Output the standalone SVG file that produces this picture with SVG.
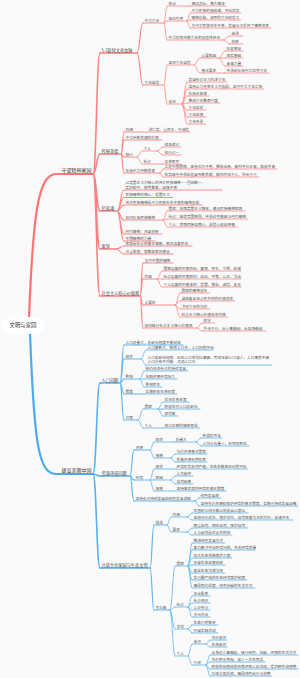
<svg xmlns="http://www.w3.org/2000/svg" width="300" height="678" viewBox="0 0 300 678">
<style>
text{font-family:"Noto Sans CJK SC","Noto Sans",sans-serif;fill:#575757}
.t0{font-size:5.4px;fill:#333}.t1{font-size:5px;fill:#3c3c3c}.t2{font-size:4.2px;fill:#4a4a4a}.t3{font-size:3.7px}
path{fill:none;stroke-linecap:round}
.rm{stroke:#FF7373;stroke-width:2.2}.r1{stroke:#FF8080;stroke-width:1.6}.r2{stroke:#FF8A8A;stroke-width:1.2}.r3{stroke:#FF9393;stroke-width:0.9}
.bm{stroke:#4CAAEE;stroke-width:2.2}.b1{stroke:#55AFF0;stroke-width:1.6}.b2{stroke:#60B6F2;stroke-width:1.2}.b3{stroke:#6BBCF3;stroke-width:0.9}
</style>
<rect width="300" height="678" fill="#FAFAFA"/>
<g id="connectors">
<path class="rm" d="M29 318C33 215 38 174 56 174"/>
<path class="bm" d="M30 333C34 440 38 474 56 474"/>
<path class="r1" d="M93 174C96.5 174 96.5 53 100 53M93 174C96.5 174 96.5 154 100 154M93 174C96.5 174 96.5 211 100 211M93 174C96.5 174 96.5 249 100 249M93 174C96.5 174 96.5 296 100 296"/>
<path class="r2" d="M137 53C140 53 140 23 143 23M137 53C140 53 140 85 143 85"/>
<path class="r3" d="M164 23C165.5 23 165.5 6 167 6M164 23C165.5 23 165.5 21 167 21M164 23C165.5 23 165.5 40 167 40M187 6H190M187 21C188.5 21 188.5 13 190 13M187 21C188.5 21 188.5 20 190 20M187 21C188.5 21 188.5 28 190 28M223 40C226.5 40 226.5 36 230 36M223 40C226.5 40 226.5 44 230 44"/>
<path class="r3" d="M164 85C165.5 85 165.5 65 167 65M164 85C165.5 85 165.5 104 167 104M194 65C197 65 197 58 200 58M194 65C197 65 197 73 200 73M219 58C222 58 222 51 225 51M219 58H225M219 58C222 58 222 66 225 66M219 73H225"/>
<path class="r3" d="M182 104C184.5 104 184.5 82 187 82M182 104C184.5 104 184.5 89 187 89M182 104C184.5 104 184.5 96 187 96M182 104C184.5 104 184.5 103 187 103M182 104C184.5 104 184.5 110 187 110M182 104C184.5 104 184.5 117 187 117M182 104C184.5 104 184.5 124 187 124"/>
<path class="r2" d="M121 154C122.5 154 122.5 132 124 132M121 154C122.5 154 122.5 140 124 140M121 154C122.5 154 122.5 157 124 157M121 154C122.5 154 122.5 173 124 173"/>
<path class="r3" d="M142 132H147M137 157C139.5 157 139.5 151 142 151M137 157C139.5 157 139.5 164 142 164M157 151C160 151 160 147 163 147M157 151C160 151 160 155 163 155M157 164H163M160 173C161.5 173 161.5 169 163 169M160 173C161.5 173 161.5 177 163 177"/>
<path class="r2" d="M117 211C120.5 211 120.5 190 124 190M117 211C120.5 211 120.5 197.5 124 197.5M117 211C120.5 211 120.5 205 124 205M117 211C120.5 211 120.5 220 124 220M117 211C120.5 211 120.5 234 124 234M117 211C120.5 211 120.5 241 124 241"/>
<path class="r3" d="M163 220C165 220 165 211 167 211M163 220C165 220 165 219 167 219M163 220C165 220 165 227 167 227"/>
<path class="r2" d="M116 249C120 249 120 246 124 246M116 249C120 249 120 254 124 254"/>
<path class="r2" d="M140 296C141.5 296 141.5 263 143 263M140 296C141.5 296 141.5 279 143 279M140 296C141.5 296 141.5 305 143 305M140 296C141.5 296 141.5 328 143 328"/>
<path class="r3" d="M157 279C159.5 279 159.5 271 162 271M157 279H162M157 279C159.5 279 159.5 287 162 287M175 305C177.5 305 177.5 293 180 293M175 305C177.5 305 177.5 301 180 301M175 305C177.5 305 177.5 309 180 309M175 305C177.5 305 177.5 317 180 317M197 328C199.5 328 199.5 323 202 323M197 328C199.5 328 199.5 331 202 331"/>
<path class="b1" d="M93 474C96.5 474 96.5 383 100 383M93 474C96.5 474 96.5 476 100 476M93 474C96.5 474 96.5 568 100 568"/>
<path class="b2" d="M120 383C122 383 122 345 124 345M120 383C122 383 122 359 124 359M120 383C122 383 122 379 124 379M120 383C122 383 122 394 124 394M120 383C122 383 122 420 124 420"/>
<path class="b3" d="M141 359C143.5 359 143.5 350 146 350M141 359C143.5 359 143.5 365 146 365M140 379C142 379 142 371 144 371M140 379H144M140 379C142 379 142 387 144 387M140 394H144M138 420C140.5 420 140.5 409 143 409M138 420C140.5 420 140.5 428 143 428M158 409C160.5 409 160.5 402 163 402M158 409H163M158 409C160.5 409 160.5 416 163 416M158 428H163"/>
<path class="b2" d="M130 476C132 476 132 450 134 450M130 476C132 476 132 480 134 480M130 476C132 476 132 501 134 501"/>
<path class="b3" d="M150 450C152 450 152 442 154 442M150 450C152 450 152 458 154 458M171 442H174M196 442C198.5 442 198.5 438 201 438M196 442C198.5 442 198.5 446 201 446M171 458C173 458 173 454 175 454M171 458C173 458 173 462 175 462M150 480C152 480 152 469 154 469M150 480H154M150 480C152 480 152 491 154 491M171 469H175M171 480C173 480 173 476 175 476M171 480C173 480 173 484 175 484M171 491H175M195 501C197 501 197 498 199 498M195 501C197 501 197 506 199 506"/>
<path class="b2" d="M150 568C152 568 152 525 154 525M150 568C152 568 152 610 154 610"/>
<path class="b3" d="M167 525C169 525 169 517 171 517M167 525C169 525 169 532 171 532M187 517C189.5 517 189.5 513 192 513M187 517C189.5 517 189.5 520 192 520M187 532C189.5 532 189.5 528 192 528M187 532C189.5 532 189.5 535 192 535"/>
<path class="b3" d="M170 610C172.5 610 172.5 566 175 566M170 610C172.5 610 172.5 607 175 607M170 610C172.5 610 172.5 629 175 629M170 610C172.5 610 172.5 656 175 656"/>
<path class="b3" d="M188 566C190 566 190 543 192 543M188 566C190 566 190 550 192 550M188 566C190 566 190 558 192 558M188 566C190 566 190 565 192 565M188 566C190 566 190 573 192 573M188 566C190 566 190 580 192 580M188 566C190 566 190 588 192 588"/>
<path class="b3" d="M188 607C190 607 190 596 192 596M188 607C190 607 190 603 192 603M188 607C190 607 190 610 192 610M188 607C190 607 190 617 192 617M188 629C190 629 190 625 192 625M188 629C190 629 190 633 192 633M188 656C190 656 190 644 192 644M188 656C190 656 190 665 192 665"/>
<path class="b3" d="M206 644C208 644 208 640 210 640M206 644C208 644 208 647 210 647M206 665C208 665 208 655 210 655M206 665C208 665 208 662 210 662M206 665C208 665 208 669 210 669M206 665C208 665 208 676 210 676"/>
</g>
<g id="root"><rect x="1.5" y="317" width="43" height="17" rx="8.5" fill="#FFFFFF"/><text class="t0" x="23" y="327.4" text-anchor="middle">文明与家园</text></g>
<g id="R0"><path class="rm" d="M56 174H93"/><text class="t1" x="61.5" y="172.3">守望精神家园</text></g>
<g id="A"><path class="r1" d="M100 53H137"/><text class="t2" x="101.5" y="51.6">5.1延续文化血脉</text></g>
<g id="A1"><path class="r2" d="M143 23H164"/><text class="t3" x="144.5" y="21.7">中华文化</text></g>
<g id="A1a"><path class="r3" d="M167 6H187"/><text class="t3" x="168.5" y="4.7">特点</text></g>
<g id="A1a1"><path class="r3" d="M190 6H226"/><text class="t3" x="191.5" y="4.7">源远流长、博大精深</text></g>
<g id="A1b"><path class="r3" d="M167 21H187"/><text class="t3" x="168.5" y="19.7">地位作用</text></g>
<g id="A1b1"><path class="r3" d="M190 13H241"/><text class="t3" x="191.5" y="11.7">中华民族的根和魂，突出优势</text></g>
<g id="A1b2"><path class="r3" d="M190 20H241"/><text class="t3" x="191.5" y="18.7">精神命脉，深厚的文化软实力</text></g>
<g id="A1b3"><path class="r3" d="M190 28H271"/><text class="t3" x="191.5" y="26.7">为中华民族生生不息、发展壮大提供了精神滋养</text></g>
<g id="A1c"><path class="r3" d="M167 40H223"/><text class="t3" x="168.5" y="38.7">中华优秀传统文化的创造性转化</text></g>
<g id="A1c1"><path class="r3" d="M230 36H243"/><text class="t3" x="231.5" y="34.7">继承</text></g>
<g id="A1c2"><path class="r3" d="M230 44H243"/><text class="t3" x="231.5" y="42.7">创新</text></g>
<g id="A2"><path class="r2" d="M143 85H164"/><text class="t3" x="144.5" y="83.7">文化自信</text></g>
<g id="A2a"><path class="r3" d="M167 65H194"/><text class="t3" x="168.5" y="63.7">坚定文化自信</text></g>
<g id="A2a1"><path class="r3" d="M200 58H219"/><text class="t3" x="201.5" y="56.7">重要原因</text></g>
<g id="A2a1a"><path class="r3" d="M225 51H243"/><text class="t3" x="226.5" y="49.7">历史源泉</text></g>
<g id="A2a1b"><path class="r3" d="M225 58H243"/><text class="t3" x="226.5" y="56.7">现实基础</text></g>
<g id="A2a1c"><path class="r3" d="M225 66H243"/><text class="t3" x="226.5" y="64.7">未来力量</text></g>
<g id="A2a2"><path class="r3" d="M200 73H219"/><text class="t3" x="201.5" y="71.7">基本要求</text></g>
<g id="A2a2a"><path class="r3" d="M225 73H269"/><text class="t3" x="226.5" y="71.7">传承和弘扬中华优秀文化</text></g>
<g id="A2b"><path class="r3" d="M167 104H182"/><text class="t3" x="168.5" y="102.7">途径</text></g>
<g id="A2b1"><path class="r3" d="M187 82H227"/><text class="t3" x="188.5" y="80.7">发展社会主义先进文化</text></g>
<g id="A2b2"><path class="r3" d="M187 89H264"/><text class="t3" x="188.5" y="87.7">坚持以马克思主义为指导，坚守中华文化立场</text></g>
<g id="A2b3"><path class="r3" d="M187 96H209"/><text class="t3" x="188.5" y="94.7">弘扬主旋律</text></g>
<g id="A2b4"><path class="r3" d="M187 103H220"/><text class="t3" x="188.5" y="101.7">推动文化繁荣兴盛</text></g>
<g id="A2b5"><path class="r3" d="M187 110H206"/><text class="t3" x="188.5" y="108.7">文化自觉</text></g>
<g id="A2b6"><path class="r3" d="M187 117H206"/><text class="t3" x="188.5" y="115.7">文化自强</text></g>
<g id="A2b7"><path class="r3" d="M187 124H206"/><text class="t3" x="188.5" y="122.7">文化传承</text></g>
<g id="B"><path class="r1" d="M100 154H121"/><text class="t2" x="101.5" y="152.6">传统美德</text></g>
<g id="B1"><path class="r2" d="M124 132H142"/><text class="t3" x="125.5" y="130.7">内涵</text></g>
<g id="B1a"><path class="r3" d="M147 132H190"/><text class="t3" x="148.5" y="130.7">讲仁爱、重民本、守诚信</text></g>
<g id="B2"><path class="r2" d="M124 140H162"/><text class="t3" x="125.5" y="138.7">中华传统美德的价值</text></g>
<g id="B3"><path class="r2" d="M124 157H137"/><text class="t3" x="125.5" y="155.7">践行</text></g>
<g id="B3a"><path class="r3" d="M142 151H157"/><text class="t3" x="143.5" y="149.7">个人</text></g>
<g id="B3a1"><path class="r3" d="M163 147H181"/><text class="t3" x="164.5" y="145.7">修身律己</text></g>
<g id="B3a2"><path class="r3" d="M163 155H181"/><text class="t3" x="164.5" y="153.7">知行合一</text></g>
<g id="B3b"><path class="r3" d="M142 164H157"/><text class="t3" x="143.5" y="162.7">社会</text></g>
<g id="B3b1"><path class="r3" d="M163 164H181"/><text class="t3" x="164.5" y="162.7">见贤思齐</text></g>
<g id="B4"><path class="r2" d="M124 173H160"/><text class="t3" x="125.5" y="171.7">弘扬中华传统美德</text></g>
<g id="B4a"><path class="r3" d="M163 169H277"/><text class="t3" x="164.5" y="167.7">立足中国国情，坚持古为今用、推陈出新，做到不忘本来、吸收外来</text></g>
<g id="B4b"><path class="r3" d="M163 177H259"/><text class="t3" x="164.5" y="175.7">在实践中传承和发展传统美德，做到内化于心、外化于行</text></g>
<g id="C"><path class="r1" d="M100 211H117"/><text class="t2" x="101.5" y="209.6">民族魂</text></g>
<g id="C1"><path class="r2" d="M124 190H222"/><text class="t3" x="125.5" y="183.9">以爱国主义为核心的伟大民族精神——团结统一、<tspan x="125.5" dy="4.6">爱好和平、勤劳勇敢、自强不息</tspan></text></g>
<g id="C2"><path class="r2" d="M124 197.5H173"/><text class="t3" x="125.5" y="196.2">民族精神的核心：爱国主义</text></g>
<g id="C3"><path class="r2" d="M124 205H202"/><text class="t3" x="125.5" y="203.7">伟大民族精神是中华民族生生不息的精神支撑</text></g>
<g id="C4"><path class="r2" d="M124 220H163"/><text class="t3" x="125.5" y="218.7">如何弘扬民族精神</text></g>
<g id="C4a"><path class="r3" d="M167 211H245"/><text class="t3" x="168.5" y="209.7">国家：加强爱国主义教育，建设民族精神家园</text></g>
<g id="C4b"><path class="r3" d="M167 219H248"/><text class="t3" x="168.5" y="217.7">社会：营造爱国氛围，传承红色基因与时代精神</text></g>
<g id="C4c"><path class="r3" d="M167 227H237"/><text class="t3" x="168.5" y="225.7">个人：增强民族自尊心、自信心和自豪感</text></g>
<g id="C5"><path class="r2" d="M124 234H162"/><text class="t3" x="125.5" y="232.7">时代精神：改革创新</text></g>
<g id="C6"><path class="r2" d="M124 241H155"/><text class="t3" x="125.5" y="239.7">中国精神的力量</text></g>
<g id="D"><path class="r1" d="M100 249H116"/><text class="t2" x="101.5" y="247.6">家风</text></g>
<g id="D1"><path class="r2" d="M124 246H192"/><text class="t3" x="125.5" y="244.7">家庭是社会的基本细胞，家风连着民风</text></g>
<g id="D2"><path class="r2" d="M124 254H173"/><text class="t3" x="125.5" y="252.7">注重家庭、家教和家风建设</text></g>
<g id="E"><path class="r1" d="M100 296H140"/><text class="t2" x="101.5" y="294.6">社会主义核心价值观</text></g>
<g id="E1"><path class="r2" d="M143 263H173"/><text class="t3" x="144.5" y="261.7">当代中国的精神</text></g>
<g id="E2"><path class="r2" d="M143 279H157"/><text class="t3" x="144.5" y="277.7">内容</text></g>
<g id="E2a"><path class="r3" d="M162 271H241"/><text class="t3" x="163.5" y="269.7">国家层面的价值目标：富强、民主、文明、和谐</text></g>
<g id="E2b"><path class="r3" d="M162 279H241"/><text class="t3" x="163.5" y="277.7">社会层面的价值取向：自由、平等、公正、法治</text></g>
<g id="E2c"><path class="r3" d="M162 287H241"/><text class="t3" x="163.5" y="285.7">个人层面的价值准则：爱国、敬业、诚信、友善</text></g>
<g id="E3"><path class="r2" d="M143 305H175"/><text class="t3" x="144.5" y="303.7">重要性</text></g>
<g id="E3a"><path class="r3" d="M180 293H210"/><text class="t3" x="181.5" y="291.7">国家的精神支柱</text></g>
<g id="E3b"><path class="r3" d="M180 301H235"/><text class="t3" x="181.5" y="299.7">凝结着全体人民共同的价值追求</text></g>
<g id="E3c"><path class="r3" d="M180 309H210"/><text class="t3" x="181.5" y="307.7">决定文化的方向</text></g>
<g id="E3d"><path class="r3" d="M180 317H228"/><text class="t3" x="181.5" y="315.7">社会主义核心价值体系内核</text></g>
<g id="E4"><path class="r2" d="M143 328H197"/><text class="t3" x="144.5" y="326.7">如何践行社会主义核心价值观</text></g>
<g id="E4a"><path class="r3" d="M202 323H215"/><text class="t3" x="203.5" y="321.7">勤学</text></g>
<g id="E4b"><path class="r3" d="M202 331H266"/><text class="t3" x="203.5" y="329.7">外化于行，从小事做起、从自身做起</text></g>
<g id="R0b"><path class="bm" d="M56 474H93"/><text class="t1" x="61.5" y="472.3">建设美丽中国</text></g>
<g id="F"><path class="b1" d="M100 383H120"/><text class="t2" x="101.5" y="381.6">人口问题</text></g>
<g id="F1"><path class="b2" d="M124 345H183"/><text class="t3" x="125.5" y="343.7">人口总量大，老龄化程度不断加深</text></g>
<g id="F2"><path class="b2" d="M124 359H141"/><text class="t3" x="125.5" y="357.7">现状</text></g>
<g id="F2a"><path class="b3" d="M146 350H213"/><text class="t3" x="147.5" y="348.7">人口基数大、新增人口多，人口问题突出</text></g>
<g id="F2b"><path class="b3" d="M146 365H272"/><text class="t3" x="147.5" y="358.6">人口老龄化加快、出生人口性别比偏高、劳动年龄人口减少，人口素质不高<tspan x="147.5" dy="4.6">人口分布不均衡、流动人口多</tspan></text></g>
<g id="F3"><path class="b2" d="M124 379H140"/><text class="t3" x="125.5" y="377.7">影响</text></g>
<g id="F3a"><path class="b3" d="M144 371H188"/><text class="t3" x="145.5" y="369.7">制约经济社会的持续发展</text></g>
<g id="F3b"><path class="b3" d="M144 379H177"/><text class="t3" x="145.5" y="377.7">加剧资源环境压力</text></g>
<g id="F3c"><path class="b3" d="M144 387H162"/><text class="t3" x="145.5" y="385.7">影响民生</text></g>
<g id="F4"><path class="b2" d="M124 394H140"/><text class="t3" x="125.5" y="392.7">国策</text></g>
<g id="F4a"><path class="b3" d="M144 394H177"/><text class="t3" x="145.5" y="392.7">实施积极生育政策</text></g>
<g id="F5"><path class="b2" d="M124 420H138"/><text class="t3" x="125.5" y="418.7">对策</text></g>
<g id="F5a"><path class="b3" d="M143 409H158"/><text class="t3" x="144.5" y="407.7">国家</text></g>
<g id="F5a1"><path class="b3" d="M163 402H189"/><text class="t3" x="164.5" y="400.7">优化生育政策</text></g>
<g id="F5a2"><path class="b3" d="M163 409H200"/><text class="t3" x="164.5" y="407.7">积极应对人口老龄化</text></g>
<g id="F5a3"><path class="b3" d="M163 416H178"/><text class="t3" x="164.5" y="414.7">促均衡</text></g>
<g id="F5b"><path class="b3" d="M143 428H158"/><text class="t3" x="144.5" y="426.7">个人</text></g>
<g id="F5b1"><path class="b3" d="M163 428H200"/><text class="t3" x="164.5" y="426.7">树立正确的婚育观念</text></g>
<g id="G"><path class="b1" d="M100 476H130"/><text class="t2" x="101.5" y="474.6">资源环境问题</text></g>
<g id="G1"><path class="b2" d="M134 450H150"/><text class="t3" x="135.5" y="448.7">资源</text></g>
<g id="G1a"><path class="b3" d="M154 442H171"/><text class="t3" x="155.5" y="440.7">现状</text></g>
<g id="G1a1"><path class="b3" d="M174 442H196"/><text class="t3" x="175.5" y="440.7">总量大</text></g>
<g id="G1a1a"><path class="b3" d="M201 438H222"/><text class="t3" x="202.5" y="436.7">种类较齐全</text></g>
<g id="G1a1b"><path class="b3" d="M201 446H249"/><text class="t3" x="202.5" y="444.7">人均占有量少，利用效率低</text></g>
<g id="G1b"><path class="b3" d="M154 458H171"/><text class="t3" x="155.5" y="456.7">措施</text></g>
<g id="G1b1"><path class="b3" d="M175 454H207"/><text class="t3" x="176.5" y="452.7">节约资源基本国策</text></g>
<g id="G1b2"><path class="b3" d="M175 462H207"/><text class="t3" x="176.5" y="460.7">提高资源利用效率</text></g>
<g id="G2"><path class="b2" d="M134 480H150"/><text class="t3" x="135.5" y="478.7">环境</text></g>
<g id="G2a"><path class="b3" d="M154 469H171"/><text class="t3" x="155.5" y="467.7">现状</text></g>
<g id="G2a1"><path class="b3" d="M175 469H248"/><text class="t3" x="176.5" y="467.7">环境形势依然严峻，生态系统退化问题突出</text></g>
<g id="G2b"><path class="b3" d="M154 480H171"/><text class="t3" x="155.5" y="478.7">原因</text></g>
<g id="G2b1"><path class="b3" d="M175 476H193"/><text class="t3" x="176.5" y="474.7">人为破坏</text></g>
<g id="G2b2"><path class="b3" d="M175 484H193"/><text class="t3" x="176.5" y="482.7">自然因素</text></g>
<g id="G2c"><path class="b3" d="M154 491H171"/><text class="t3" x="155.5" y="489.7">措施</text></g>
<g id="G2c1"><path class="b3" d="M175 491H226"/><text class="t3" x="176.5" y="489.7">坚持落实保护环境的基本国策</text></g>
<g id="G3"><path class="b2" d="M134 501H195"/><text class="t3" x="135.5" y="499.7">坚持走可持续发展和绿色发展道路</text></g>
<g id="G3a"><path class="b3" d="M199 498H221"/><text class="t3" x="200.5" y="496.7">绿色发展观</text></g>
<g id="G3b"><path class="b3" d="M199 506H298"/><text class="t3" x="200.5" y="504.7">坚持节约资源和保护环境的基本国策，实施可持续发展战略</text></g>
<g id="H"><path class="b1" d="M100 568H150"/><text class="t2" x="101.5" y="566.6">共筑生命家园与生态文明</text></g>
<g id="H1"><path class="b2" d="M154 525H167"/><text class="t3" x="155.5" y="523.7">理念</text></g>
<g id="H1a"><path class="b3" d="M171 517H187"/><text class="t3" x="172.5" y="515.7">内涵</text></g>
<g id="H1a1"><path class="b3" d="M192 513H248"/><text class="t3" x="193.5" y="511.7">牢固树立绿水青山就是金山银山</text></g>
<g id="H1a2"><path class="b3" d="M192 520H293"/><text class="t3" x="193.5" y="518.7">坚持节约优先、保护优先、自然恢复为主的方针，和谐共生</text></g>
<g id="H1b"><path class="b3" d="M171 532H187"/><text class="t3" x="172.5" y="530.7">要求</text></g>
<g id="H1b1"><path class="b3" d="M192 528H248"/><text class="t3" x="193.5" y="526.7">尊重自然、顺应自然、保护自然</text></g>
<g id="H1b2"><path class="b3" d="M192 535H232"/><text class="t3" x="193.5" y="533.7">人与自然是生命共同体</text></g>
<g id="H2"><path class="b2" d="M154 610H170"/><text class="t3" x="155.5" y="608.7">怎么做</text></g>
<g id="H2a"><path class="b3" d="M175 566H188"/><text class="t3" x="176.5" y="564.7">国家</text></g>
<g id="H2a1"><path class="b3" d="M192 543H225"/><text class="t3" x="193.5" y="541.7">推进绿色发展方式</text></g>
<g id="H2a2"><path class="b3" d="M192 550H255"/><text class="t3" x="193.5" y="548.7">着力解决突出环境问题，改善环境质量</text></g>
<g id="H2a3"><path class="b3" d="M192 558H232"/><text class="t3" x="193.5" y="556.7">加大生态系统保护力度</text></g>
<g id="H2a4"><path class="b3" d="M192 565H225"/><text class="t3" x="193.5" y="563.7">改革生态监管体制</text></g>
<g id="H2a5"><path class="b3" d="M192 573H225"/><text class="t3" x="193.5" y="571.7">健全生态法律法规</text></g>
<g id="H2a6"><path class="b3" d="M192 580H247"/><text class="t3" x="193.5" y="578.7">实行最严格的生态环境保护制度</text></g>
<g id="H2a7"><path class="b3" d="M192 588H255"/><text class="t3" x="193.5" y="586.7">倡导简约适度、绿色低碳的生活方式</text></g>
<g id="H2b"><path class="b3" d="M175 607H188"/><text class="t3" x="176.5" y="605.7">社会</text></g>
<g id="H2b1"><path class="b3" d="M192 596H210"/><text class="t3" x="193.5" y="594.7">企业履责</text></g>
<g id="H2b2"><path class="b3" d="M192 603H210"/><text class="t3" x="193.5" y="601.7">社会组织</text></g>
<g id="H2b3"><path class="b3" d="M192 610H210"/><text class="t3" x="193.5" y="608.7">公众参与</text></g>
<g id="H2b4"><path class="b3" d="M192 617H210"/><text class="t3" x="193.5" y="615.7">多元共治</text></g>
<g id="H2c"><path class="b3" d="M175 629H188"/><text class="t3" x="176.5" y="627.7">学校</text></g>
<g id="H2c1"><path class="b3" d="M192 625H218"/><text class="t3" x="193.5" y="623.7">生态文明教育</text></g>
<g id="H2c2"><path class="b3" d="M192 633H218"/><text class="t3" x="193.5" y="631.7">开展实践活动</text></g>
<g id="H2d"><path class="b3" d="M175 656H188"/><text class="t3" x="176.5" y="654.7">个人</text></g>
<g id="H2d1"><path class="b3" d="M192 644H206"/><text class="t3" x="193.5" y="642.7">意识</text></g>
<g id="H2d1a"><path class="b3" d="M210 640H227"/><text class="t3" x="211.5" y="638.7">节约意识</text></g>
<g id="H2d1b"><path class="b3" d="M210 647H227"/><text class="t3" x="211.5" y="645.7">生态意识</text></g>
<g id="H2d2"><path class="b3" d="M192 665H206"/><text class="t3" x="193.5" y="663.7">行动</text></g>
<g id="H2d2a"><path class="b3" d="M210 655H298"/><text class="t3" x="211.5" y="653.7">从身边小事做起，践行绿色、低碳、环保的生活方式</text></g>
<g id="H2d2b"><path class="b3" d="M210 662H265"/><text class="t3" x="211.5" y="660.7">节约用水用电，减少一次性用品</text></g>
<g id="H2d2c"><path class="b3" d="M210 669H298"/><text class="t3" x="211.5" y="667.7">积极参加植树造林等环保公益活动，爱护野生动植物</text></g>
<g id="H2d2d"><path class="b3" d="M210 676H272"/><text class="t3" x="211.5" y="674.7">垃圾分类投放，倡导绿色出行与消费</text></g>
</svg>
